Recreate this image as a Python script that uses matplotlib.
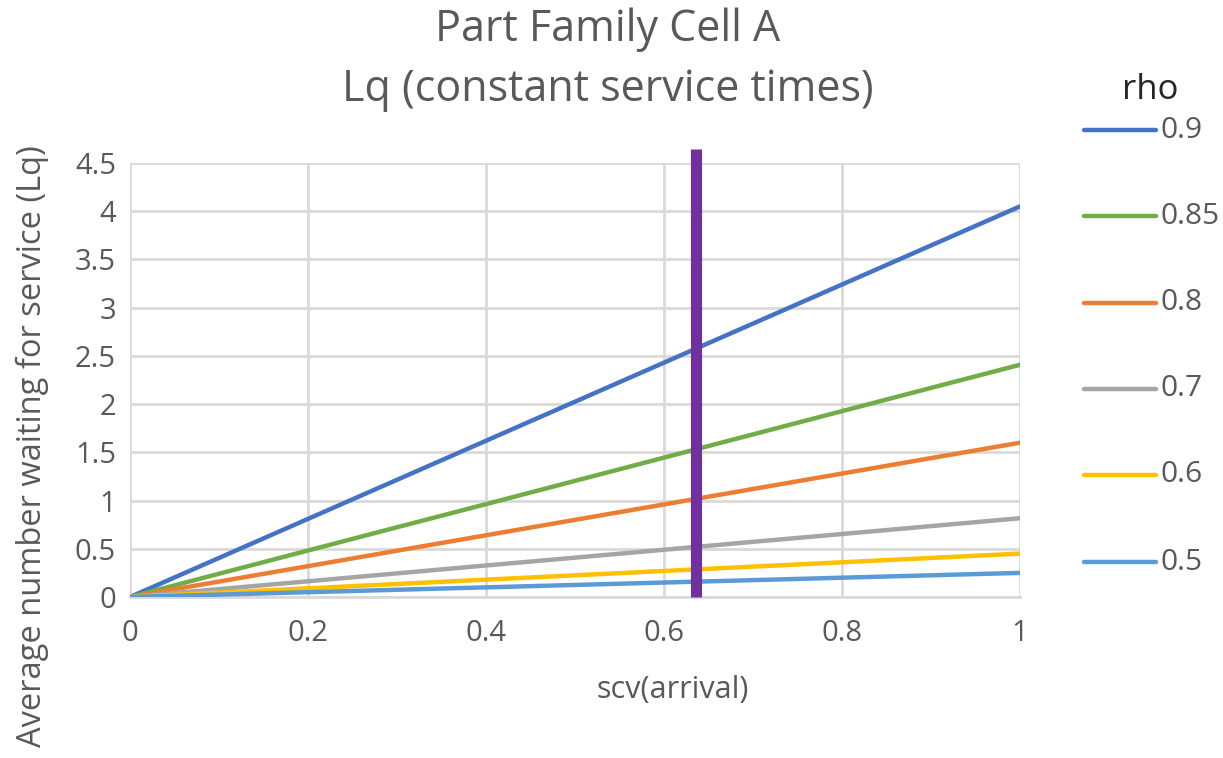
import matplotlib
matplotlib.use("Agg")
import matplotlib.pyplot as plt
from matplotlib.ticker import FuncFormatter, MultipleLocator
from matplotlib import font_manager

# scv of arrivals (x) and queue length Lq for each utilisation level
scv_arrival = [0.0, 0.1, 0.2, 0.3, 0.4, 0.5, 0.6, 0.7, 0.8, 0.9, 1.0]
rho_labels = ["0.9", "0.85", "0.8", "0.7", "0.6", "0.5"]
lq_rho_090 = [0.0, 0.405, 0.81, 1.215, 1.62, 2.025, 2.43, 2.835, 3.24, 3.645, 4.05]
lq_rho_085 = [0.0, 0.241, 0.482, 0.723, 0.963, 1.204, 1.445, 1.686, 1.927, 2.168, 2.408]
lq_rho_080 = [0.0, 0.16, 0.32, 0.48, 0.64, 0.80, 0.96, 1.12, 1.28, 1.44, 1.60]
lq_rho_070 = [0.0, 0.082, 0.163, 0.245, 0.327, 0.408, 0.49, 0.572, 0.653, 0.735, 0.817]
lq_rho_060 = [0.0, 0.045, 0.09, 0.135, 0.18, 0.225, 0.27, 0.315, 0.36, 0.405, 0.45]
lq_rho_050 = [0.0, 0.025, 0.05, 0.075, 0.10, 0.125, 0.15, 0.175, 0.20, 0.225, 0.25]
current_scv = 0.636

series = [lq_rho_090, lq_rho_085, lq_rho_080, lq_rho_070, lq_rho_060, lq_rho_050]
colors = ["#4472C4", "#70AD47", "#ED7D31", "#A5A5A5", "#FFC000", "#5B9BD5"]

installed = {f.name for f in font_manager.fontManager.ttflist}
base_font = "Open Sans" if "Open Sans" in installed else "DejaVu Sans"
plt.rcParams["font.family"] = [base_font, "DejaVu Sans"]

text_grey = "#595959"
grid_grey = "#D9D9D9"

fig = plt.figure(figsize=(12.23, 7.58), dpi=100)
ax = fig.add_axes([130 / 1223, 1 - 597 / 758, (1020 - 130) / 1223, (597 - 163) / 758])

for vals, col, lab in zip(series, colors, rho_labels):
    ax.plot(scv_arrival, vals, color=col, lw=3.2, label=lab, solid_capstyle="round", zorder=3)

ax.set_xlim(0, 1)
ax.set_ylim(0, 4.5)
ax.xaxis.set_major_locator(MultipleLocator(0.2))
ax.yaxis.set_major_locator(MultipleLocator(0.5))
fmt = FuncFormatter(lambda v, p: f"{v:g}")
ax.xaxis.set_major_formatter(fmt)
ax.yaxis.set_major_formatter(fmt)
ax.grid(True, color=grid_grey, lw=2.0, zorder=0)
ax.set_axisbelow(True)
for s in ["top", "right", "left"]:
    ax.spines[s].set_visible(False)
ax.spines["bottom"].set_color(grid_grey)
ax.spines["bottom"].set_linewidth(2.0)
ax.tick_params(axis="x", length=0, pad=16, labelsize=21, colors=text_grey)
ax.tick_params(axis="y", length=0, pad=10, labelsize=21, colors=text_grey)

# marker for the current arrival variability
ax.plot([current_scv, current_scv], [0, 4.64], color="#7030A0", lw=8,
        solid_capstyle="butt", clip_on=False, zorder=4)

fig.text(608 / 1223, 1 - 30 / 758, "Part Family Cell A", ha="center", va="center",
         fontsize=31, color=text_grey)
fig.text(608 / 1223, 1 - 90 / 758, "Lq (constant service times)", ha="center", va="center",
         fontsize=31, color=text_grey)
fig.text(673 / 1223, 1 - 690 / 758, "scv(arrival)", ha="center", va="center",
         fontsize=22, color=text_grey)
fig.text(32 / 1223, 1 - 446 / 758, "Average number waiting for service (Lq)", ha="center",
         va="center", rotation=90, fontsize=23.5, color=text_grey)

# legend drawn as a column on the right
fig.text(1150 / 1223, 1 - 90 / 758, "rho", ha="center", va="center", fontsize=25, color="#262626")
leg_y = [130, 216, 303, 389, 475, 562]
for yy, col, lab in zip(leg_y, colors, rho_labels):
    yf = 1 - yy / 758
    fig.add_artist(plt.Line2D([1084 / 1223, 1156 / 1223], [yf, yf], color=col, lw=3.2,
                              solid_capstyle="round", transform=fig.transFigure))
    fig.text(1160 / 1223, yf, lab, ha="left", va="center", fontsize=21.5, color=text_grey)

fig.savefig("out.png", dpi=100)
